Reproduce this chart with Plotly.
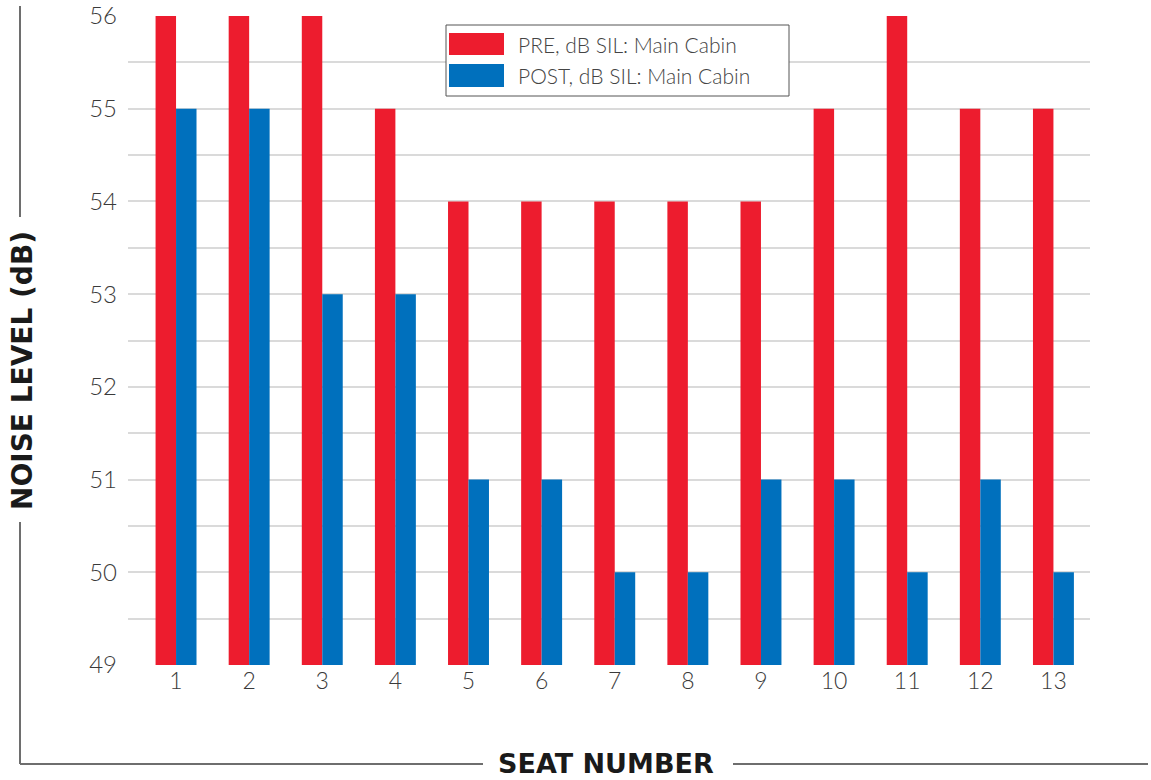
import plotly.graph_objects as go

seats = list(range(1, 14))
seat_labels = [str(s) for s in seats]
series_names = ["PRE, dB SIL: Main Cabin", "POST, dB SIL: Main Cabin"]
pre_values = [56, 56, 56, 55, 54, 54, 54, 54, 54, 55, 56, 55, 55]
post_values = [55, 55, 53, 53, 51, 51, 50, 50, 51, 51, 50, 51, 50]
y_ticks = [49, 50, 51, 52, 53, 54, 55, 56]
x_title = "SEAT NUMBER"
y_title = "NOISE LEVEL (dB)"

RED = "#ED1C2E"
BLUE = "#0070BD"
GRID = "#DADADA"
LINE = "#6E6E6E"
TXT = "#3A3A3A"
FONT = "Lato"
BOLD = "DejaVu Sans"

fig = go.Figure()
fig.add_trace(go.Bar(x=seats, y=pre_values, name=series_names[0],
                     marker=dict(color=RED, line=dict(width=0)), showlegend=False))
fig.add_trace(go.Bar(x=seats, y=post_values, name=series_names[1],
                     marker=dict(color=BLUE, line=dict(width=0)), showlegend=False))

fig.update_layout(
    width=1151, height=780,
    margin=dict(l=128, r=61, t=16, b=115, autoexpand=False),
    paper_bgcolor="white", plot_bgcolor="white",
    barmode="group", bargap=0.44, bargroupgap=0,
    font=dict(family=FONT, color=TXT),
)
fig.update_xaxes(
    range=[0.343, 13.5], tickvals=seats, ticktext=seat_labels,
    showgrid=False, zeroline=False, showline=False, ticks="", automargin=False,
    tickfont=dict(family=FONT, size=23, color=TXT, weight=300),
)
fig.update_yaxes(
    range=[49, 56.0001], tickvals=y_ticks, showgrid=True, gridcolor=GRID, gridwidth=1.5,
    minor=dict(dtick=0.5, tick0=49, showgrid=True, gridcolor=GRID, gridwidth=1.5),
    zeroline=False, showline=False, ticks="", ticklabelstandoff=10, automargin=False,
    ticklabeloverflow="allow",
    tickfont=dict(family=FONT, size=24, color=TXT, weight=300),
)

def px_x(px):
    return (px - 128) / 962.0

def px_y(py):
    return (665 - py) / 649.0

shapes = []
for (x0, y0, x1, y1) in [(20, 6, 20, 217), (20, 522, 20, 764), (20, 764, 483, 764), (733, 764, 1148, 764)]:
    shapes.append(dict(type="line", xref="paper", yref="paper",
                       x0=px_x(x0), y0=px_y(y0), x1=px_x(x1), y1=px_y(y1),
                       line=dict(color=LINE, width=2)))
shapes.append(dict(type="rect", xref="paper", yref="paper",
                   x0=px_x(446), y0=px_y(96), x1=px_x(789), y1=px_y(25),
                   line=dict(color="#555555", width=1), fillcolor="white", layer="above"))
shapes.append(dict(type="rect", xref="paper", yref="paper",
                   x0=px_x(449), y0=px_y(55), x1=px_x(504), y1=px_y(33),
                   line=dict(width=0), fillcolor=RED, layer="above"))
shapes.append(dict(type="rect", xref="paper", yref="paper",
                   x0=px_x(449), y0=px_y(87), x1=px_x(504), y1=px_y(64),
                   line=dict(width=0), fillcolor=BLUE, layer="above"))
fig.update_layout(shapes=shapes)

annotations = [
    dict(text=series_names[0], xref="paper", yref="paper", x=px_x(516), y=px_y(44),
         xanchor="left", yanchor="middle", showarrow=False,
         font=dict(family=FONT, size=21, color="#444444", weight=300)),
    dict(text=series_names[1], xref="paper", yref="paper", x=px_x(516), y=px_y(75.5),
         xanchor="left", yanchor="middle", showarrow=False,
         font=dict(family=FONT, size=21, color="#444444", weight=300)),
    dict(text="<b>" + y_title + "</b>", xref="paper", yref="paper", x=px_x(22), y=px_y(371),
         xanchor="center", yanchor="middle", textangle=-90, showarrow=False,
         font=dict(family=BOLD, size=28, color="#1A1A1A")),
    dict(text="<b>" + x_title + "</b>", xref="paper", yref="paper", x=px_x(606), y=px_y(763),
         xanchor="center", yanchor="middle", showarrow=False,
         font=dict(family=BOLD, size=27, color="#1A1A1A")),
]
fig.update_layout(annotations=annotations)

fig.write_html("out.html", config={"displayModeBar": False},
               post_script="document.body.style.margin='0';")
